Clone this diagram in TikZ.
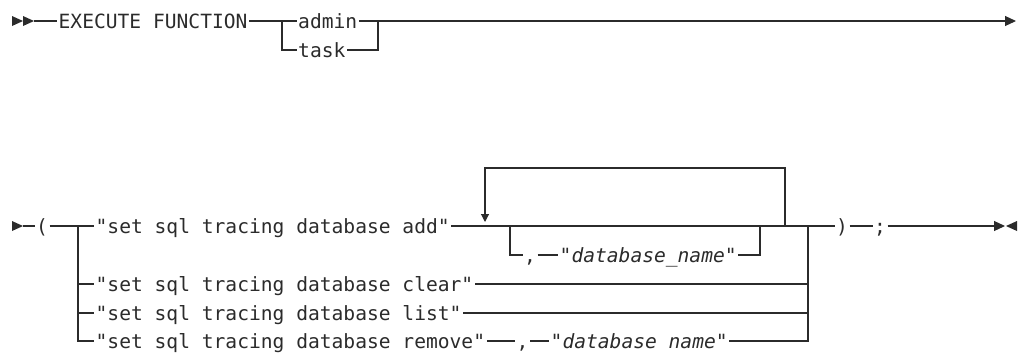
\documentclass[tikz,border=0pt]{standalone}
\usepackage{fontspec}
\setmonofont{DejaVu Sans Mono}
\usepackage{tikz}
\usetikzlibrary{arrows.meta,positioning}
\definecolor{railgray}{HTML}{2B2B2B}

\begin{document}
\begin{tikzpicture}[
  x=1bp, y=-1bp,
  kw/.style={font=\ttfamily\fontsize{19.6bp}{22bp}\selectfont, text=railgray, inner sep=1.5bp, text height=14bp, text depth=0pt, anchor=west},
  var/.style={kw, font=\ttfamily\itshape\fontsize{19.6bp}{22bp}\selectfont},
  rail/.style={draw=railgray, line width=1.1bp},
  tip/.style={-{Triangle[length=11bp,width=10bp]}},
  looptip/.style={-{Triangle[length=8bp,width=8bp]}}
]
  \useasboundingbox (0,0) rectangle (1019,354);

  % First line
  \fill[railgray] (12,16) -- (23,21) -- (12,26) -- cycle;
  \fill[railgray] (23,16) -- (34,21) -- (23,26) -- cycle;
  \coordinate (s1) at (34,21);
  \node[kw] (exec) at (57,21) {EXECUTE FUNCTION};
  \coordinate (j1) at (282,21);
  \node[kw] (admin) at (296.5,21) {admin};
  \node[kw] (task) at (296.5,50) {task};
  \coordinate (j2) at (378,21);
  \coordinate (e1) at (1016,21);

  \draw[rail] (s1) -- (exec.west);
  \draw[rail] (exec.east) -- (j1) -- (admin.west);
  \draw[rail] (j1) |- (task.west);
  \draw[rail] (admin.east) -- (j2);
  \draw[rail] (task.east) -| (j2);
  \draw[rail, tip] (j2) -- (e1);

  % Second line
  \fill[railgray] (12,221) -- (23,226) -- (12,231) -- cycle;
  \coordinate (s2) at (23,226);
  \node[kw] (lpar) at (34.5,226) {(};
  \coordinate (j3) at (78,226);
  \node[kw] (add) at (94,226) {"set sql tracing database add"};
  \node[kw] (clear) at (94,284) {"set sql tracing database clear"};
  \node[kw] (list) at (94,313) {"set sql tracing database list"};
  \node[kw] (remove) at (94,341) {"set sql tracing database remove"};

  % Repeat loop and optional name
  \coordinate (j4) at (510,226);
  \node[kw] (comma1) at (522.5,255) {,};
  \node[var] (dbname1) at (558,255) {"database\_name"};
  \coordinate (j5) at (760,226);
  \coordinate (lq) at (785,226);
  \coordinate (lr) at (785,168);
  \coordinate (ld) at (485,222);

  \node[kw] (comma2) at (515,341) {,};
  \node[var] (dbname2) at (549,341) {"database name"};

  \coordinate (j6) at (808,226);
  \node[kw] (rpar) at (834.5,226) {)};
  \node[kw] (semi) at (872.5,226) {;};
  \coordinate (e2) at (1005,226);

  \draw[rail] (s2) -- (lpar.west);
  \draw[rail] (lpar.east) -- (j3) -- (add.west);
  \draw[rail] (add.east) -- (j6);
  \draw[rail, looptip] (lq) -- (lr) -| (ld);
  \draw[rail] (j4) |- (comma1.west);
  \draw[rail] (comma1.east) -- (dbname1.west);
  \draw[rail] (dbname1.east) -| (j5);

  \draw[rail] (j3) |- (clear.west);
  \draw[rail] (j3) |- (list.west);
  \draw[rail] (j3) |- (remove.west);
  \draw[rail] (clear.east) -| (j6);
  \draw[rail] (list.east) -| (j6);
  \draw[rail] (remove.east) -- (comma2.west);
  \draw[rail] (comma2.east) -- (dbname2.west);
  \draw[rail] (dbname2.east) -| (j6);

  \draw[rail] (j6) -- (rpar.west);
  \draw[rail] (rpar.east) -- (semi.west);
  \draw[rail, tip] (semi.east) -- (e2);
  \fill[railgray] (1017,221) -- (1006,226) -- (1017,231) -- cycle;

\end{tikzpicture}
\end{document}
